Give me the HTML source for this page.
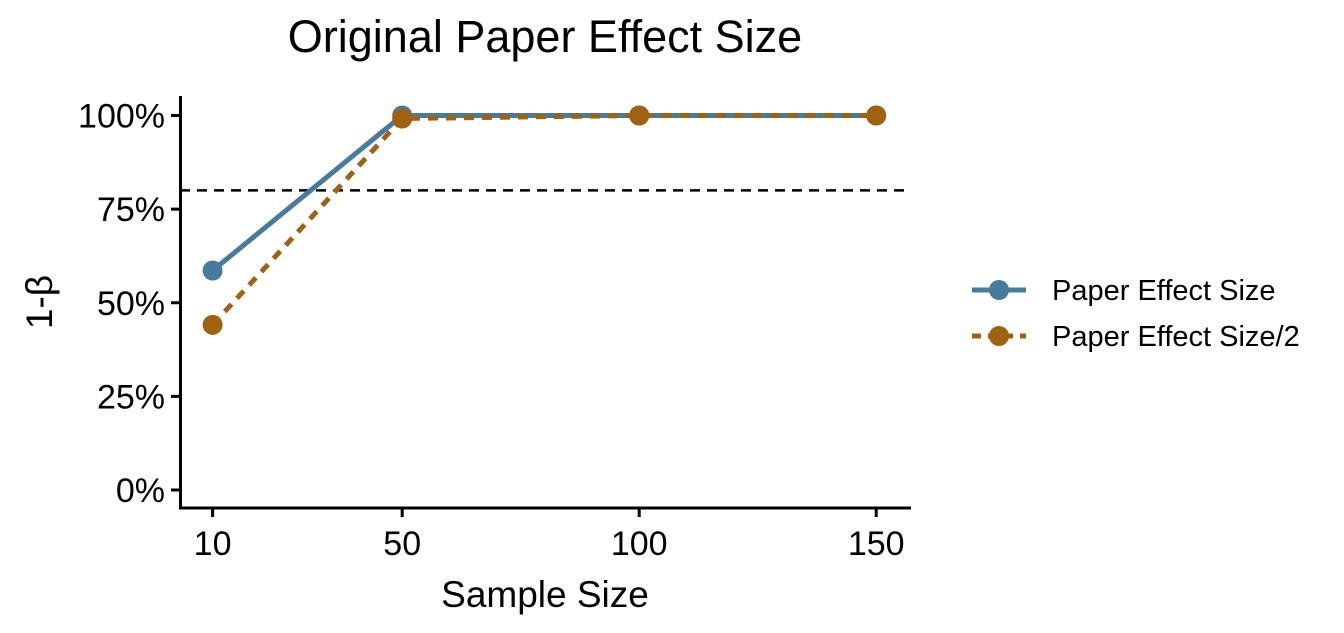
<!DOCTYPE html>
<html><head><meta charset="utf-8"><style>
body{margin:0;background:#fff;}
svg{display:block;font-family:"Liberation Sans",sans-serif;}
</style></head><body>
<svg id="chart" width="1344" height="633">
<text x="545" y="52" font-size="45" text-anchor="middle">Original Paper Effect Size</text>
<g id="plot"></g>
<text x="545" y="607" font-size="37" text-anchor="middle">Sample Size</text>
<text transform="translate(52,302) rotate(-90)" font-size="37" text-anchor="middle">1-β</text>
<g>
<g>
<line x1="972" y1="290" x2="1026" y2="290" stroke="#457B9D" stroke-width="5"/>
<circle cx="999" cy="290" r="10" fill="#457B9D"/>
<text x="1052" y="300" font-size="29">Paper Effect Size</text></g>
<g>
<line x1="972" y1="336" x2="1026" y2="336" stroke="#A0620F" stroke-width="5" stroke-dasharray="9,7"/>
<circle cx="999" cy="336" r="10" fill="#A0620F"/>
<text x="1052" y="346" font-size="29">Paper Effect Size/2</text></g>
</g>
</svg>
<script>
const categories=[10,50,100,150];
const seriesPaper=[0.586,1.0,1.0,1.0];
const seriesHalf=[0.441,0.992,1.0,1.0];
const yTicks=[0,0.25,0.5,0.75,1.0];
const yTickLabels=["0%","25%","50%","75%","100%"];
const xTicks=[10,50,100,150];
const threshold=0.8;
const NS="http://www.w3.org/2000/svg";
const g=document.getElementById('plot');
function xs(v){return 212.6+(v-10)*4.74;}
function ys(v){return 490-v*374.5;}
function mk(t,a,p){const e=document.createElementNS(NS,t);for(const k in a)e.setAttribute(k,a[k]);(p||g).appendChild(e);return e;}
let ax=mk('line',{x1:180.5,y1:96,x2:180.5,y2:509,stroke:'#000','stroke-width':3});


let bx=mk('line',{x1:179,y1:508,x2:911,y2:508,stroke:'#000','stroke-width':3});


yTicks.forEach((v,i)=>{
 mk('line',{x1:171,y1:ys(v),x2:180,y2:ys(v),stroke:'#000','stroke-width':3});
 const t=mk('text',{x:165,y:ys(v)+12,'font-size':34,'text-anchor':'end'});
 t.textContent=yTickLabels[i];
 
 
});
xTicks.forEach(v=>{
 mk('line',{x1:xs(v),y1:508,x2:xs(v),y2:517,stroke:'#000','stroke-width':3});
 const t=mk('text',{x:xs(v),y:555,'font-size':34,'text-anchor':'middle'});
 t.textContent=v;
 
 
});
const h=mk('line',{x1:180,y1:ys(threshold),x2:910,y2:ys(threshold),stroke:'#000','stroke-width':2.5,'stroke-dasharray':'10,7'});


function series(vals,color,dash,name){
 const pts=categories.map((c,i)=>xs(c)+','+ys(vals[i])).join(' ');
 const l=mk('polyline',{points:pts,fill:'none',stroke:color,'stroke-width':5});
 if(dash)l.setAttribute('stroke-dasharray',dash);
 
 
 categories.forEach((c,i)=>{
  const p=mk('circle',{cx:xs(c),cy:ys(vals[i]),r:10,fill:color});
  
  
 });
}
series(seriesPaper,'#457B9D',null,'paper-effect');
series(seriesHalf,'#A0620F','10,8','half-effect');
</script>
</body></html>
